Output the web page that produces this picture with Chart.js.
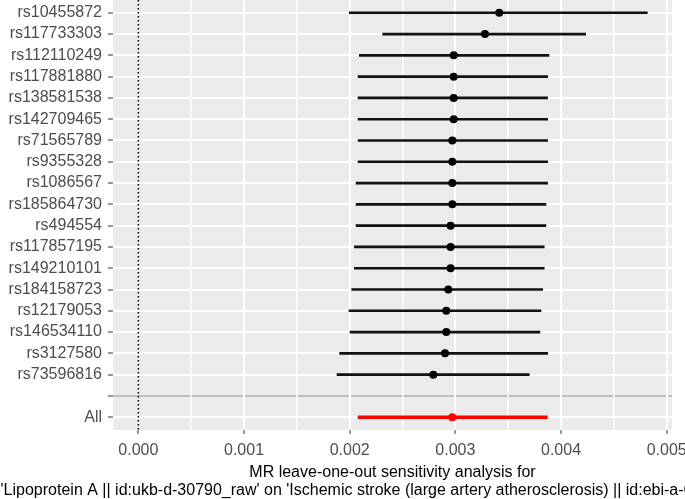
<!DOCTYPE html>
<html>
<head>
<meta charset="utf-8">
<script src="https://cdn.jsdelivr.net/npm/chart.js@4/dist/chart.umd.min.js"></script>
<style>
  body { margin: 0; background: #fff; }
  #wrap { width: 685px; height: 499px; position: relative; }
</style>
</head>
<body>
<div id="wrap"><canvas id="loo"></canvas></div>
<script>
// rows, top to bottom ("" is the empty row above All)
const snps = ["rs10455872", "rs117733303", "rs112110249", "rs117881880", "rs138581538",
  "rs142709465", "rs71565789", "rs9355328", "rs1086567", "rs185864730", "rs494554",
  "rs117857195", "rs149210101", "rs184158723", "rs12179053", "rs146534110",
  "rs3127580", "rs73596816", "", "All"];

// leave-one-out estimates and 95% CI
const estimate = [0.003415, 0.003280, 0.002984, 0.002984, 0.002984, 0.002984, 0.002971,
  0.002971, 0.002971, 0.002971, 0.002955, 0.002955, 0.002955, 0.002933, 0.002914,
  0.002914, 0.002902, 0.002791];
const lower = [0.001996, 0.002312, 0.002091, 0.002079, 0.002079, 0.002079, 0.002079,
  0.002079, 0.002060, 0.002060, 0.002060, 0.002044, 0.002044, 0.002019, 0.001993,
  0.002003, 0.001905, 0.001880];
const upper = [0.004816, 0.004233, 0.003886, 0.003873, 0.003873, 0.003873, 0.003873,
  0.003873, 0.003873, 0.003857, 0.003857, 0.003841, 0.003841, 0.003826, 0.003810,
  0.003800, 0.003873, 0.003699];

// the "All" row
const allEstimate = 0.002971;
const allLower = 0.002079;
const allUpper = 0.003870;

// x axis: major ticks with labels, minor grid in between
const xTickValues = [0, 0.0005, 0.001, 0.0015, 0.002, 0.0025, 0.003, 0.0035, 0.004, 0.0045, 0.005];
const xTickLabels = ["0.000", "", "0.001", "", "0.002", "", "0.003", "", "0.004", "", "0.005"];

const titleLines = [
  "MR leave-one-out sensitivity analysis for",
  "'Lipoprotein A || id:ukb-d-30790_raw' on 'Ischemic stroke (large artery atherosclerosis) || id:ebi-a-GCST006907'"
];

const FONT = '"Liberation Sans", Arial, sans-serif';
Chart.defaults.font.family = FONT;

const allRow = snps.indexOf("All") + 1;
const blankRow = snps.indexOf("") + 1;

// grey panel
const panelBg = {
  id: "panelBg",
  beforeDraw(chart) {
    const { ctx, chartArea: a } = chart;
    ctx.save();
    ctx.fillStyle = "#EBEBEB";
    ctx.fillRect(a.left, a.top, a.right - a.left, a.bottom - a.top);
    ctx.restore();
  },
};

// x title drawn without width squeeze (it is clipped by the canvas like the original)
const xTitle = {
  id: "xTitle",
  afterDraw(chart) {
    const { ctx, chartArea: a } = chart;
    ctx.save();
    ctx.font = "16px " + FONT;
    ctx.fillStyle = "#000000";
    ctx.textAlign = "center";
    ctx.textBaseline = "alphabetic";
    const cx = (a.left + a.right) / 2;
    titleLines.forEach((t, i) => ctx.fillText(t, cx, a.bottom + 47 + i * 17.5));
    ctx.restore();
  },
};

const ciData = lower.map((lo, i) => ({ y: i + 1, x: [lo, upper[i]] }));
const pointData = estimate.map((b, i) => ({ y: i + 1, x: b }));

new Chart(document.getElementById("loo"), {
  type: "bar",
  data: {
    datasets: [
      {
        type: "line",
        data: [{ x: 0, y: 0.4 }, { x: 0, y: 20.6 }],
        borderColor: "#000000",
        borderWidth: 1.5,
        borderDash: [1.5, 2.5],
        pointRadius: 0,
        order: 3,
      },
      {
        type: "bar",
        data: ciData,
        backgroundColor: "#111111",
        barThickness: 2,
        grouped: false,
        order: 2,
      },
      {
        type: "bar",
        data: [{ y: allRow, x: [allLower, allUpper] }],
        backgroundColor: "#FF0000",
        barThickness: 3,
        grouped: false,
        order: 2,
      },
      {
        type: "line",
        data: pointData,
        showLine: false,
        pointRadius: 4,
        pointBorderWidth: 0,
        pointBackgroundColor: "#000000",
        order: 1,
      },
      {
        type: "line",
        data: [{ y: allRow, x: allEstimate }],
        showLine: false,
        pointRadius: 4,
        pointBorderWidth: 0,
        pointBackgroundColor: "#FF0000",
        order: 0,
      },
    ],
  },
  options: {
    indexAxis: "y",
    responsive: true,
    maintainAspectRatio: false,
    animation: false,
    layout: { autoPadding: false, padding: { left: 0, right: 13, top: 0, bottom: 0 } },
    plugins: { legend: { display: false }, tooltip: { enabled: false } },
    scales: {
      y: {
        type: "linear",
        reverse: true,
        min: 0.4,
        max: snps.length + 0.6,
        offset: false,
        afterBuildTicks: (s) => { s.ticks = snps.map((_, i) => ({ value: i + 1 })); },
        afterFit: (s) => { s.width = 113; s.paddingTop = 0; s.paddingBottom = 0; },
        ticks: {
          autoSkip: false,
          padding: 6,
          color: "#4D4D4D",
          font: { size: 16 },
          callback: (v) => snps[Math.round(v) - 1],
        },
        grid: {
          offset: false,
          color: (c) => (c.tick && c.tick.value === blankRow ? "#BEBEBE" : "#FFFFFF"),
          lineWidth: 2,
          tickLength: 5,
          tickWidth: 1,
          tickColor: "#333333",
        },
        border: { display: false },
      },
      x: {
        type: "linear",
        min: -0.00024,
        max: 0.00505,
        afterBuildTicks: (s) => { s.ticks = xTickValues.map((v) => ({ value: v })); },
        afterFit: (s) => { s.height = 69; s.paddingLeft = 0; s.paddingRight = 0; },
        ticks: {
          autoSkip: false,
          maxRotation: 0,
          padding: 7,
          color: "#4D4D4D",
          font: { size: 16 },
          callback: (v, i) => xTickLabels[i],
        },
        grid: {
          color: (c) => (c.tick && c.tick.value === 0 ? "rgba(0,0,0,0)" : "#FFFFFF"),
          lineWidth: (c) => (c.index % 2 === 0 ? 2 : 1.5),
          tickLength: 4,
          tickWidth: 1,
          tickColor: (c) => (c.index % 2 === 0 ? "#333333" : "rgba(0,0,0,0)"),
        },
        border: { display: false },
      },
    },
  },
  plugins: [panelBg, xTitle],
});
</script>
</body>
</html>
